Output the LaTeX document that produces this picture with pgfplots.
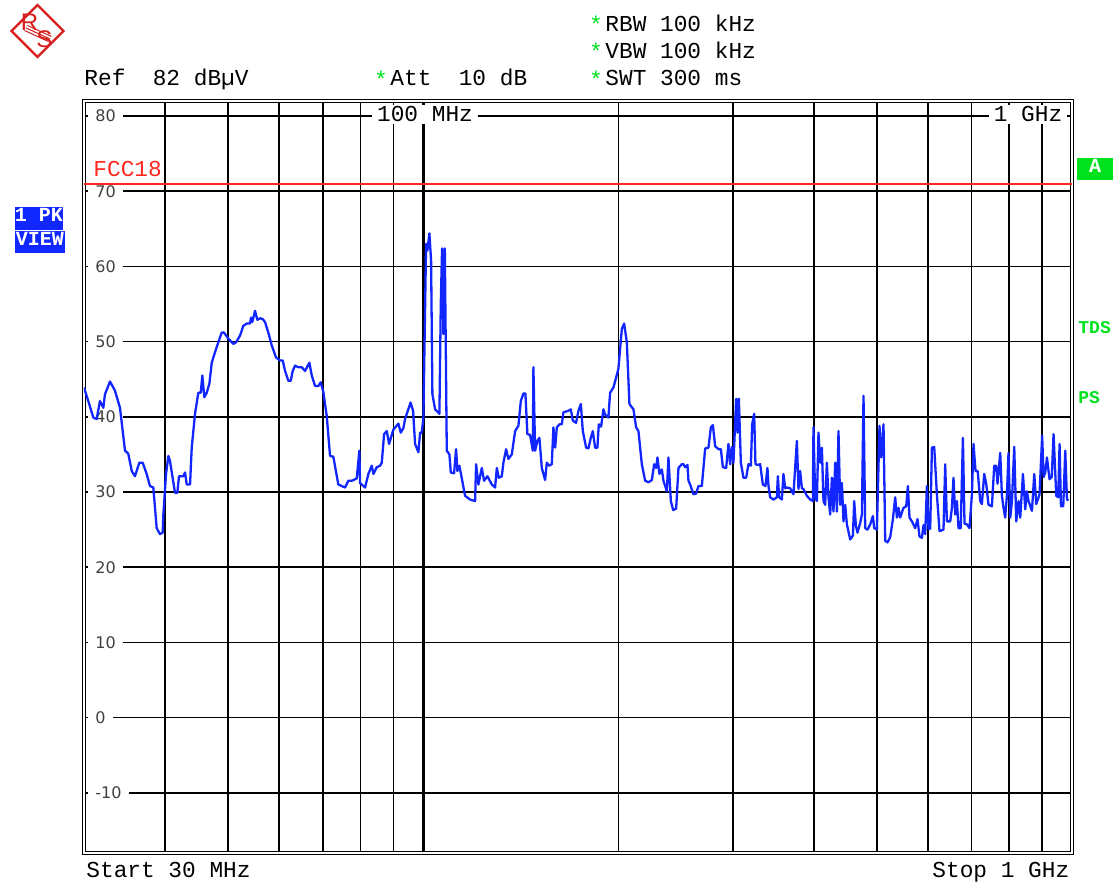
\documentclass[border=0pt]{standalone}
\usepackage{pgfplots}
\pgfplotsset{compat=1.18}
\usepackage{pgfplotstable}
\usepackage{fontspec}
\newfontfamily\mono{Liberation Mono}
\newfontfamily\dejavu{DejaVu Sans}
\newfontfamily\lsans{Liberation Sans}
\definecolor{traceblue}{RGB}{18,38,255}
\definecolor{limred}{RGB}{255,40,30}
\definecolor{rsgreen}{RGB}{0,225,30}
\definecolor{boxblue}{RGB}{16,40,255}
\definecolor{logored}{RGB}{215,30,30}
\newcommand{\hd}{\mono\fontsize{11.4}{13}\selectfont}

\pgfplotstableread{
f dB
30 71
1000 71
}\limit

\pgfplotstableread{
f dB
30.00 43.9
30.46 42.1
31.01 39.9
31.38 39.7
31.75 42.1
32.13 41.2
32.32 43.0
32.90 44.7
33.48 43.5
34.09 41.2
34.70 35.5
35.11 35.1
35.54 32.8
35.95 32.1
36.51 33.9
36.95 33.9
37.48 32.4
37.92 30.8
38.37 30.6
38.83 25.2
39.29 24.4
39.67 24.6
39.76 27.0
40.14 32.4
40.47 34.8
40.71 34.1
41.44 29.9
41.78 29.9
42.03 32.1
42.68 32.1
42.94 32.6
43.20 31.0
43.71 31.0
43.97 35.9
44.49 40.4
45.01 43.2
45.40 43.2
45.66 45.5
45.98 42.6
46.38 43.2
46.81 44.4
47.21 47.2
47.76 48.6
48.32 49.9
48.91 51.2
49.31 51.2
50.07 50.4
50.97 49.7
51.46 49.9
52.19 50.8
52.81 52.1
53.45 52.4
54.08 52.4
54.27 53.2
54.52 52.6
55.05 54.1
55.50 52.9
56.04 53.1
56.58 53.0
57.04 52.6
57.71 51.2
58.41 49.5
59.31 47.9
60.16 47.5
60.74 47.5
61.24 46.1
61.96 44.8
62.49 44.8
62.93 46.1
63.45 46.8
64.20 46.6
64.98 46.6
65.74 46.1
66.76 47.2
67.33 45.5
68.12 44.1
68.92 44.1
69.51 44.6
70.16 43.3
71.01 40.1
71.85 34.8
72.69 34.7
73.99 31.0
75.78 30.6
76.67 31.5
77.60 31.5
78.99 31.8
79.72 35.5
79.92 31.2
81.35 30.6
82.31 32.4
83.31 33.5
83.78 32.4
84.80 33.3
85.80 33.5
86.32 33.9
87.03 37.7
87.87 38.1
88.59 36.4
89.95 38.3
91.56 39.1
92.34 37.9
93.20 38.5
93.76 39.7
95.61 41.9
96.46 40.8
97.15 36.4
98.30 35.3
98.89 37.9
99.49 37.9
100.06 39.9
101.02 63.0
101.49 62.1
102.21 64.4
102.83 60.8
103.31 43.0
104.30 41.0
105.91 40.4
106.43 55.0
106.92 62.4
107.42 51.0
107.96 62.4
108.72 35.5
109.73 35.0
110.28 32.6
111.58 32.5
112.37 35.7
112.89 32.8
113.70 33.5
116.02 29.5
118.10 29.0
120.21 28.8
120.64 33.7
121.63 31.0
123.11 33.2
124.12 31.5
125.58 32.1
127.56 31.0
129.06 30.6
129.84 33.2
130.77 31.9
132.17 32.1
132.92 33.9
134.20 35.7
135.30 34.4
136.94 35.0
138.56 38.1
140.19 38.8
141.39 42.1
142.70 43.1
143.72 43.1
144.74 37.7
146.14 37.6
147.54 35.5
147.86 46.6
148.75 35.5
149.97 36.8
151.04 37.2
152.33 33.2
154.13 31.6
155.06 33.9
156.33 33.5
157.84 33.7
158.74 38.6
159.70 35.9
160.67 38.6
162.16 39.0
163.54 39.0
164.48 40.6
167.42 40.8
168.85 41.0
170.06 39.5
172.06 39.2
173.47 40.8
174.95 41.7
176.20 38.1
178.28 35.9
179.74 35.8
181.28 37.2
182.57 38.1
184.06 35.9
185.57 35.9
186.50 39.0
188.03 38.7
189.57 41.0
190.72 40.3
192.96 39.9
194.13 43.2
196.42 43.9
198.31 45.2
199.94 46.4
202.36 51.7
204.02 52.4
205.99 49.9
207.90 41.7
210.87 41.0
212.90 38.6
214.65 38.1
217.25 33.7
219.82 31.5
222.40 31.3
225.11 31.6
226.96 33.7
228.57 33.2
229.63 34.6
231.27 32.4
233.25 33.0
234.57 31.5
237.42 30.1
238.78 34.6
240.82 28.8
242.79 27.6
245.39 27.8
247.41 33.2
250.41 33.7
251.83 33.7
253.36 33.3
255.44 33.6
256.35 31.5
257.90 31.0
260.94 29.7
263.45 29.8
265.61 30.8
268.83 30.8
272.00 35.8
275.21 35.9
277.56 38.6
279.54 38.9
281.83 36.1
285.15 35.7
287.59 35.7
289.64 33.3
293.05 33.2
295.45 36.4
297.24 33.7
299.04 36.0
300.75 33.9
303.64 42.4
305.05 37.9
306.57 42.4
308.75 33.9
311.62 31.9
314.62 31.9
317.20 33.7
319.91 33.5
321.39 39.0
323.68 40.4
325.18 33.7
327.50 33.6
330.65 33.7
333.83 31.0
336.93 30.8
339.33 33.2
340.54 30.8
342.60 29.3
346.64 29.0
350.84 29.3
352.09 32.1
353.72 29.3
357.13 29.0
359.16 32.4
361.34 30.5
363.52 30.6
367.81 30.5
372.14 29.7
376.66 36.8
378.81 30.4
381.09 32.8
383.40 30.5
385.58 30.4
390.26 29.5
394.86 29.0
398.67 28.8
399.52 38.6
401.94 29.3
404.37 28.8
406.67 37.9
409.14 33.9
411.61 35.9
413.95 28.8
416.46 28.3
418.98 33.9
421.37 29.3
423.92 27.0
426.48 31.9
428.91 27.4
431.51 33.9
434.12 27.4
436.60 38.1
439.24 28.3
441.90 31.2
444.41 26.1
447.10 28.3
449.81 25.7
455.12 23.7
459.51 24.2
461.63 28.8
464.43 25.5
467.07 24.6
471.57 25.9
474.43 27.0
477.13 42.8
480.02 25.2
483.95 25.0
488.61 25.7
493.32 26.8
495.60 25.2
500.37 25.0
505.01 38.8
508.07 34.6
512.23 39.0
515.34 23.5
519.56 23.3
524.57 24.0
529.62 26.4
533.96 29.3
537.19 26.6
540.25 27.9
543.52 26.6
549.93 27.9
555.22 28.1
558.58 30.8
561.76 26.6
566.57 26.1
573.24 25.2
577.94 26.4
582.06 24.1
587.05 23.9
590.39 25.6
593.96 24.4
597.56 30.8
600.96 25.1
604.60 25.1
608.26 35.9
613.24 36.0
619.15 29.7
624.89 24.8
633.83 25.0
637.66 33.7
641.53 26.1
649.08 26.1
653.02 27.9
656.74 31.9
660.72 27.0
664.72 28.8
668.50 25.2
673.74 25.2
679.03 37.2
682.89 25.8
688.74 25.7
695.12 25.2
701.07 29.7
705.07 36.4
710.09 32.8
715.66 32.8
722.04 28.8
726.40 28.4
732.36 32.4
737.58 31.1
743.62 28.3
752.66 28.1
758.84 33.5
764.25 33.5
767.78 31.1
775.18 35.2
779.86 29.5
784.31 27.9
789.06 26.6
793.83 29.5
798.35 35.2
803.19 26.6
808.05 28.8
814.68 36.0
820.48 26.1
827.20 28.8
832.22 26.6
840.22 32.4
847.12 27.7
852.24 30.1
857.09 28.8
867.50 27.5
874.62 32.4
880.85 28.4
891.23 29.7
899.54 37.5
903.97 32.0
909.45 32.6
914.95 34.6
923.43 31.7
930.67 32.0
936.64 37.7
945.67 29.5
952.40 29.3
956.80 36.4
961.56 28.1
969.45 28.1
976.37 35.5
982.27 29.0
987.87 28.9
}\trace

\begin{document}
\begin{tikzpicture}
\begin{axis}[
  name=main,
  scale only axis,
  width=494pt, height=376pt,
  xmode=log, xmin=30, xmax=1000, ymin=-18, ymax=82,
  xtick={40,50,60,70,80,90,200,300,400,500,600,700,800,900},
  xticklabels={},
  extra x ticks={100},
  extra x tick labels={},
  extra x tick style={major grid style={black, line width=1.5pt}},
  ytick={-10,0,10,20,30,40,50,60,70,80},
  yticklabels={-10,0,10,20,30,40,50,60,70,80},
  grid=major,
  major grid style={black, line width=0.85pt},
  major tick length=0pt, minor tick length=0pt,
  yticklabel style={anchor=west, xshift=2pt, fill=white, inner xsep=3.5pt, inner ysep=0.5pt,
    font=\dejavu\fontsize{8}{9}\selectfont, text=black!75},
  axis line style={black, line width=0.6pt, double distance=1pt},
  set layers,
]
\addplot[traceblue, line width=1.15pt, line join=round, mark=none] table[x=f, y=dB]{\trace};
\addplot[draw=limred, line width=0.8pt, mark=none] table[x=f, y=dB]{\limit};
\end{axis}

\coordinate (O) at ([shift={(-42pt,50.5pt)}]main.north west);
\begin{scope}[shift={(O)}, x=0.5pt, y=-0.5pt]
  % logo
  \draw[logored, line width=1.1pt, line join=miter] (37.5,5) -- (63.5,31) -- (37.5,57) -- (11.5,31) -- cycle;
  \node[text=logored, font=\lsans\fontsize{12}{12}\selectfont, inner sep=0] at (29.5,22) {R};
  \node[text=logored, font=\lsans\fontsize{12}{12}\selectfont, inner sep=0] at (44.5,39.5) {S};
  \draw[logored, line width=0.5pt] (26,28) -- (50,39);
  \draw[logored, line width=0.5pt] (27.5,25.5) -- (51.5,36.5);
  \draw[logored, line width=0.5pt] (24.5,30.5) -- (48.5,41.5);
  % header texts
  \node[anchor=base west, inner sep=0, font=\hd] at (84,86) {Ref~~82~dBµV};
  \node[anchor=base, inner sep=0, text=rsgreen, font=\hd] at (381,88) {*};
  \node[anchor=base west, inner sep=0, font=\hd] at (390,86) {Att~~10~dB};
  \node[anchor=base, inner sep=0, text=rsgreen, font=\hd] at (596,33) {*};
  \node[anchor=base west, inner sep=0, font=\hd] at (605,31.5) {RBW 100 kHz};
  \node[anchor=base, inner sep=0, text=rsgreen, font=\hd] at (596,60) {*};
  \node[anchor=base west, inner sep=0, font=\hd] at (605,58.5) {VBW 100 kHz};
  \node[anchor=base, inner sep=0, text=rsgreen, font=\hd] at (596,88) {*};
  \node[anchor=base west, inner sep=0, font=\hd] at (605,86) {SWT 300 ms};
  % footer
  \node[anchor=base west, inner sep=0, font=\hd] at (86,878) {Start 30 MHz};
  \node[anchor=base west, inner sep=0, font=\hd] at (932,878) {Stop 1 GHz};
  % labels on top grid line
  \node[anchor=base, fill=white, inner xsep=2.5pt, inner ysep=0.8pt, font=\hd] at (425,122) {100 MHz};
  \node[anchor=base, fill=white, inner xsep=2.5pt, inner ysep=0.8pt, font=\hd] at (1028,122) {1 GHz};
  % limit line label
  \node[anchor=base west, inner sep=0, text=limred, font=\hd] at (93,176.5) {FCC18};
  % left boxes
  \fill[boxblue] (15,207) rectangle (63,230);
  \node[anchor=base, inner sep=0, text=white, font=\mono\bfseries\fontsize{10}{11}\selectfont] at (39,222) {1 PK};
  \fill[boxblue] (15,231) rectangle (65,253);
  \node[anchor=base, inner sep=0, text=white, font=\mono\bfseries\fontsize{10}{11}\selectfont] at (40,246) {VIEW};
  % right side
  \fill[rsgreen] (1077,158) rectangle (1113,180);
  \node[anchor=base, inner sep=0, text=white, font=\mono\bfseries\fontsize{10}{11}\selectfont] at (1095,173) {A};
  \node[anchor=base west, inner sep=0, text=rsgreen, font=\mono\bfseries\fontsize{9}{10}\selectfont] at (1078,333.5) {TDS};
  \node[anchor=base west, inner sep=0, text=rsgreen, font=\mono\bfseries\fontsize{9}{10}\selectfont] at (1078,404) {PS};
\end{scope}
\pgfresetboundingbox
\path[use as bounding box] (O) rectangle ([shift={(557.5pt,-443pt)}]O);
\end{tikzpicture}
\end{document}
